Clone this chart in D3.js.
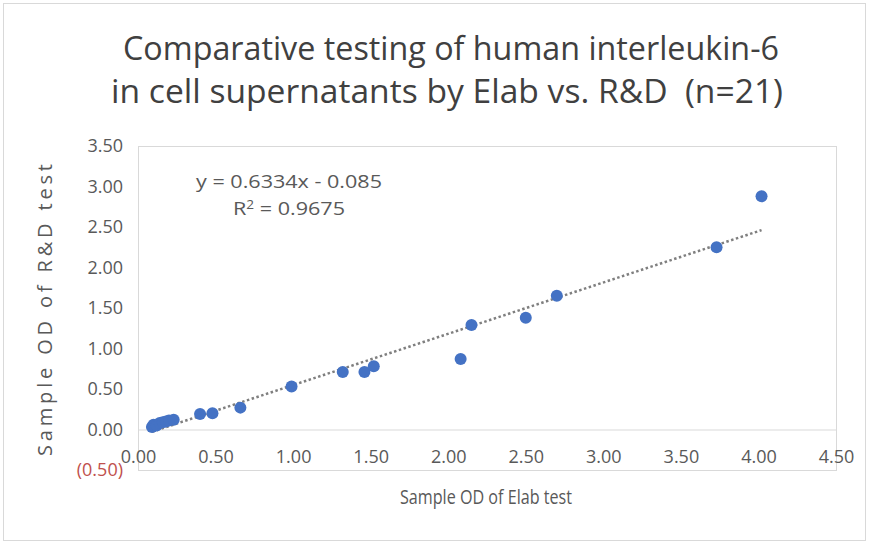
<!DOCTYPE html>
<meta charset="utf-8">
<script src="https://d3js.org/d3.v7.min.js"></script>
<style>
  body { margin: 0; background: #ffffff; }
  text { font-family: "Open Sans", "Noto Sans", sans-serif; }
</style>
<body>
<div id="chart"></div>
<script>
// Sample OD of each test (Elab on x, R&D on y), 21 samples
var elabOD = [0.09, 0.10, 0.12, 0.14, 0.16, 0.18, 0.20, 0.23, 0.40, 0.48, 0.66,
              0.99, 1.32, 1.46, 1.52, 2.08, 2.15, 2.50, 2.70, 3.73, 4.02];
var rdOD   = [0.03, 0.06, 0.05, 0.08, 0.09, 0.10, 0.11, 0.12, 0.19, 0.20, 0.27,
              0.53, 0.71, 0.71, 0.78, 0.87, 1.29, 1.38, 1.65, 2.25, 2.88];

var xTicks = [0, 0.5, 1, 1.5, 2, 2.5, 3, 3.5, 4, 4.5];
var yTicks = [-0.5, 0, 0.5, 1, 1.5, 2, 2.5, 3, 3.5];

// linear trendline as printed on the chart
var trendSlope = 0.6334;
var trendIntercept = -0.085;
var trendLabel = "y = 0.6334x - 0.085";
var r2Label = "0.9675";

var titleLines = ["Comparative testing of human interleukin-6",
                  "in cell supernatants by Elab vs. R&D  (n=21)"];
var xTitle = "Sample OD of Elab test";
var yTitle = "Sample OD of R&D test";

var width = 869, height = 544;
var margin = {top: 146, right: 33, bottom: 74, left: 138};

var svg = d3.select("#chart").append("svg")
    .attr("width", width)
    .attr("height", height);

// outer chart border
svg.append("rect")
    .attr("x", 3.5).attr("y", 3.5)
    .attr("width", width - 7).attr("height", height - 7)
    .attr("fill", "#fff")
    .attr("stroke", "#d9d9d9");

var x = d3.scaleLinear().domain([0, 4.5]).range([margin.left, width - margin.right]);
var y = d3.scaleLinear().domain([-0.5, 3.5]).range([height - margin.bottom, margin.top]);

var fmt = d3.format(".2f");

// plot area frame
svg.append("rect")
    .attr("x", x(0) + 0.5).attr("y", y(3.5) + 0.5)
    .attr("width", x(4.5) - x(0)).attr("height", y(-0.5) - y(3.5))
    .attr("fill", "none")
    .attr("stroke", "#d9d9d9");

// y axis labels
var yAxis = svg.append("g")
    .attr("transform", "translate(" + x(0) + ",0)")
    .call(d3.axisLeft(y).tickValues(yTicks).tickSize(0).tickPadding(15)
        .tickFormat(function (d) { return d < 0 ? "(" + fmt(-d) + ")" : fmt(d); }));
yAxis.select(".domain").remove();
yAxis.selectAll("text")
    .style("font-size", "18px")
    .style("font-family", "Open Sans")
    .attr("fill", function (d) { return d < 0 ? "#c0504d" : "#595959"; });

// x axis sits on y = 0
var xAxis = svg.append("g")
    .attr("transform", "translate(0," + y(0) + ")")
    .call(d3.axisBottom(x).tickValues(xTicks).tickSize(0).tickPadding(21).tickFormat(fmt));
xAxis.select(".domain")
    .attr("stroke", "#d9d9d9");
xAxis.selectAll("text")
    .style("font-size", "18px")
    .style("font-family", "Open Sans")
    .attr("fill", "#595959");

// trendline
var xMin = d3.min(elabOD), xMax = d3.max(elabOD);
svg.append("line")
    .attr("x1", x(xMin)).attr("y1", y(trendSlope * xMin + trendIntercept))
    .attr("x2", x(xMax)).attr("y2", y(trendSlope * xMax + trendIntercept))
    .attr("stroke", "#7f7f7f")
    .attr("stroke-width", 2.5)
    .attr("stroke-dasharray", "2.5 2.5");

// points
svg.append("g")
    .selectAll("circle")
    .data(d3.range(elabOD.length))
    .enter()
    .append("circle")
    .attr("cx", function (i) { return x(elabOD[i]); })
    .attr("cy", function (i) { return y(rdOD[i]); })
    .attr("r", 6)
    .attr("fill", "#4472c4");

// trendline equation
svg.append("text")
    .attr("x", 289).attr("y", 188)
    .attr("text-anchor", "middle")
    .attr("fill", "#595959")
    .attr("textLength", 186)
    .attr("lengthAdjust", "spacingAndGlyphs")
    .style("font-size", "19px")
    .text(trendLabel);
var r2 = svg.append("text")
    .attr("x", 289).attr("y", 215)
    .attr("text-anchor", "middle")
    .attr("fill", "#595959")
    .attr("textLength", 112)
    .attr("lengthAdjust", "spacingAndGlyphs")
    .style("font-size", "19px");
r2.append("tspan").text("R");
r2.append("tspan").attr("dy", -6).style("font-size", "12px").text("2");
r2.append("tspan").attr("dy", 6).text(" = " + r2Label);

// title
svg.selectAll(".title")
    .data(titleLines)
    .enter()
    .append("text")
    .attr("class", "title")
    .attr("x", function (d, i) { return i === 0 ? 451 : 447; })
    .attr("y", function (d, i) { return 60 + i * 43; })
    .attr("text-anchor", "middle")
    .attr("fill", "#404040")
    .attr("textLength", function (d, i) { return i === 0 ? 656 : 672; })
    .attr("lengthAdjust", "spacingAndGlyphs")
    .style("font-size", "32px")
    .style("white-space", "pre")
    .text(function (d) { return d; });

// axis titles
svg.append("text")
    .attr("x", 486).attr("y", 504)
    .attr("text-anchor", "middle")
    .attr("fill", "#595959")
    .attr("textLength", 172)
    .attr("lengthAdjust", "spacingAndGlyphs")
    .style("font-size", "20px")
    .text(xTitle);

svg.append("text")
    .attr("transform", "translate(52,310) rotate(-90)")
    .attr("text-anchor", "middle")
    .attr("fill", "#595959")
    .attr("textLength", 292)
    .attr("lengthAdjust", "spacing")
    .style("font-size", "20px")
    .text(yTitle);
</script>
</body>
